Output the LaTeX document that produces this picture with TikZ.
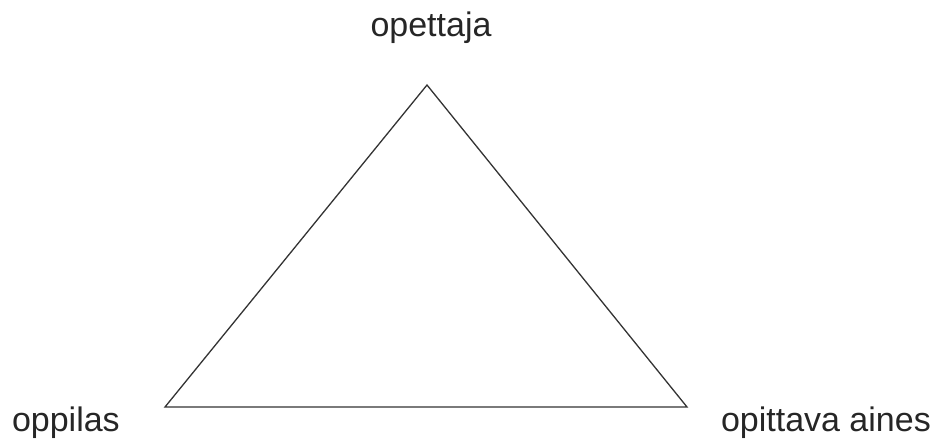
\documentclass[tikz,border=0pt]{standalone}
\usepackage{fontspec}
\setmainfont{Liberation Sans}
\usetikzlibrary{positioning}

\begin{document}
\begin{tikzpicture}[
      x=1bp,y=-1bp,
      every node/.style={inner sep=0pt,outer sep=0pt,font=\fontsize{34bp}{40bp}\selectfont,text=black!85},
      edge/.style={line width=1.3bp,black!80,line join=miter}
    ]
      \useasboundingbox (0,0) rectangle (939,439);
      \coordinate (T) at (427,85);
      \coordinate (O) at (165,407);
      \coordinate (A) at (687,407);
      \node[anchor=base] (teacher) at (431,37) {opettaja};
      \node[anchor=base west] (pupil) at (12,431) {oppilas};
      \node[anchor=base west] (subject) at (721,431) {opittava aines};
      \draw[edge] (T) -- (O) -- (A) -- cycle;
    \end{tikzpicture}
\end{document}
